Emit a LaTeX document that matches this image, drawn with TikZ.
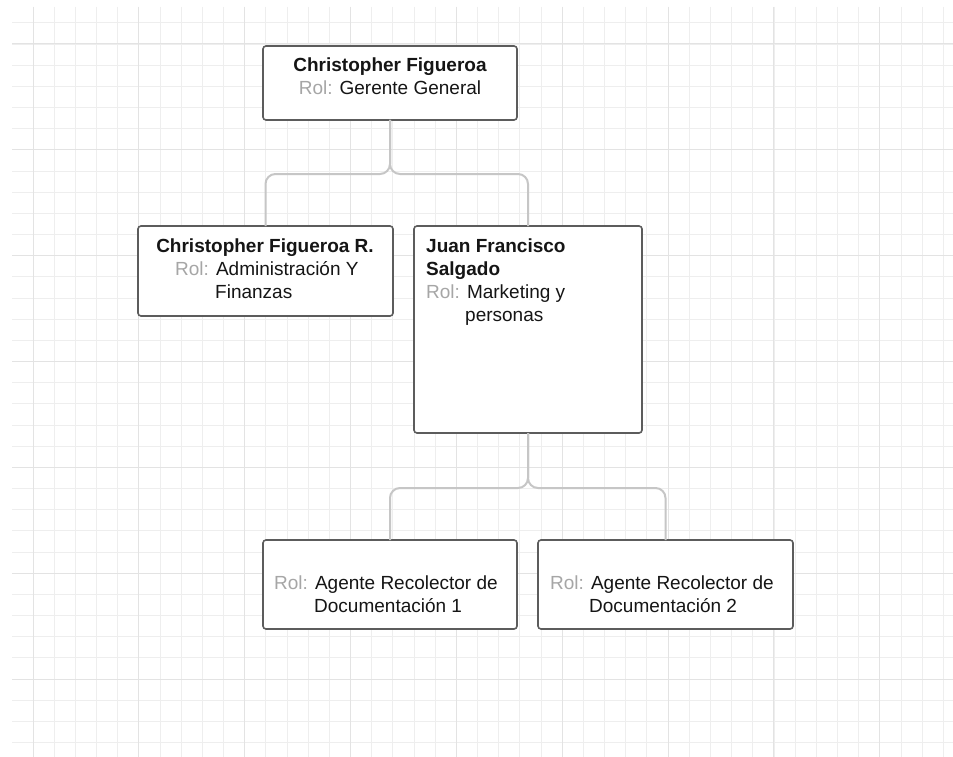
\documentclass[tikz,border=0pt]{standalone}
\usepackage{fontspec}
\setmainfont{Liberation Sans}
\definecolor{gridminor}{HTML}{EEEEEE}
\definecolor{gridmajor}{HTML}{E3E3E3}
\definecolor{boxborder}{HTML}{5C5C5C}
\definecolor{connline}{HTML}{C6C6C6}
\definecolor{rolgray}{HTML}{A6A6A6}
\definecolor{txt}{HTML}{151515}
\newcommand{\rolx}{\textcolor{rolgray}{Rol:}}
\tikzset{
  orgbox/.style={draw=boxborder, line width=1.6pt, fill=white, rounded corners=3pt, rectangle, inner sep=0pt, outer sep=0pt},
  conn/.style={draw=connline, line width=2pt, rounded corners=10pt},
  txtl/.style={anchor=base west, inner sep=0pt, text=txt, font=\fontsize{19}{23}\selectfont},
  txtc/.style={anchor=base, inner sep=0pt, text=txt, font=\fontsize{19}{23}\selectfont},
}
\begin{document}
\begin{tikzpicture}[x=1pt, y=-1pt]
\useasboundingbox (0,0) rectangle (953,757);
\fill[white] (0,0) rectangle (953,757);
% grid
\begin{scope}
\clip (12,7) rectangle (953,757);
\foreach \k in {0,...,43} {
  \pgfmathsetmacro{\gx}{33+21.17*\k}
  \draw[gridminor, line width=0.9pt] (\gx,7) -- (\gx,757);
}
\foreach \j in {0,...,34} {
  \pgfmathsetmacro{\gy}{22.83+21.17*\j}
  \draw[gridminor, line width=0.9pt] (12,\gy) -- (953,\gy);
}
\foreach \m in {0,...,8} {
  \pgfmathsetmacro{\gx}{33+105.85*\m}
  \draw[gridmajor, line width=1pt] (\gx,7) -- (\gx,757);
}
\foreach \m in {0,...,6} {
  \pgfmathsetmacro{\gy}{44+105.85*\m}
  \draw[gridmajor, line width=1pt] (12,\gy) -- (953,\gy);
}
\end{scope}

% boxes
\node[orgbox, minimum width=254pt, minimum height=74pt] (b1) at (390,83) {};
\node[orgbox, minimum width=255pt, minimum height=90pt] (b2) at (265.5,271) {};
\node[orgbox, minimum width=228pt, minimum height=207pt] (b3) at (528,329.5) {};
\node[orgbox, minimum width=254pt, minimum height=89pt] (b4) at (390,584.5) {};
\node[orgbox, minimum width=255pt, minimum height=89pt] (b5) at (665.5,584.5) {};

% connectors
\coordinate (j1) at (390,174);
\coordinate (j2) at (528,488);
\draw[conn] (b1.south) -- (j1) -| (b2.north);
\draw[conn] (b1.south) -- (j1) -| (b3.north);
\draw[conn] (b3.south) -- (j2) -| (b4.north);
\draw[conn] (b3.south) -- (j2) -| (b5.north);

% texts box 1
\node[txtc] (t1a) at (390,72) {\bfseries Christopher Figueroa};
\node[txtc] (t1b) at (390,95) {\rolx{} Gerente General};
% box 2
\node[txtc] (t2a) at (265,252) {\bfseries Christopher Figueroa R.};
\node[txtl] (t2b) at (175,275) {\rolx{} Administración Y};
\node[txtl] (t2c) at (215,298) {Finanzas};
% box 3
\node[txtl] (t3a) at (426,252) {\bfseries Juan Francisco};
\node[txtl] (t3b) at (426,275) {\bfseries Salgado};
\node[txtl] (t3c) at (426,298) {\rolx{} Marketing y};
\node[txtl] (t3d) at (465,321) {personas};
% box 4
\node[txtl] (t4a) at (274,589) {\rolx{} Agente Recolector de};
\node[txtl] (t4b) at (314,612) {Documentación 1};
% box 5
\node[txtl] (t5a) at (550,589) {\rolx{} Agente Recolector de};
\node[txtl] (t5b) at (589,612) {Documentación 2};
\end{tikzpicture}
\end{document}
